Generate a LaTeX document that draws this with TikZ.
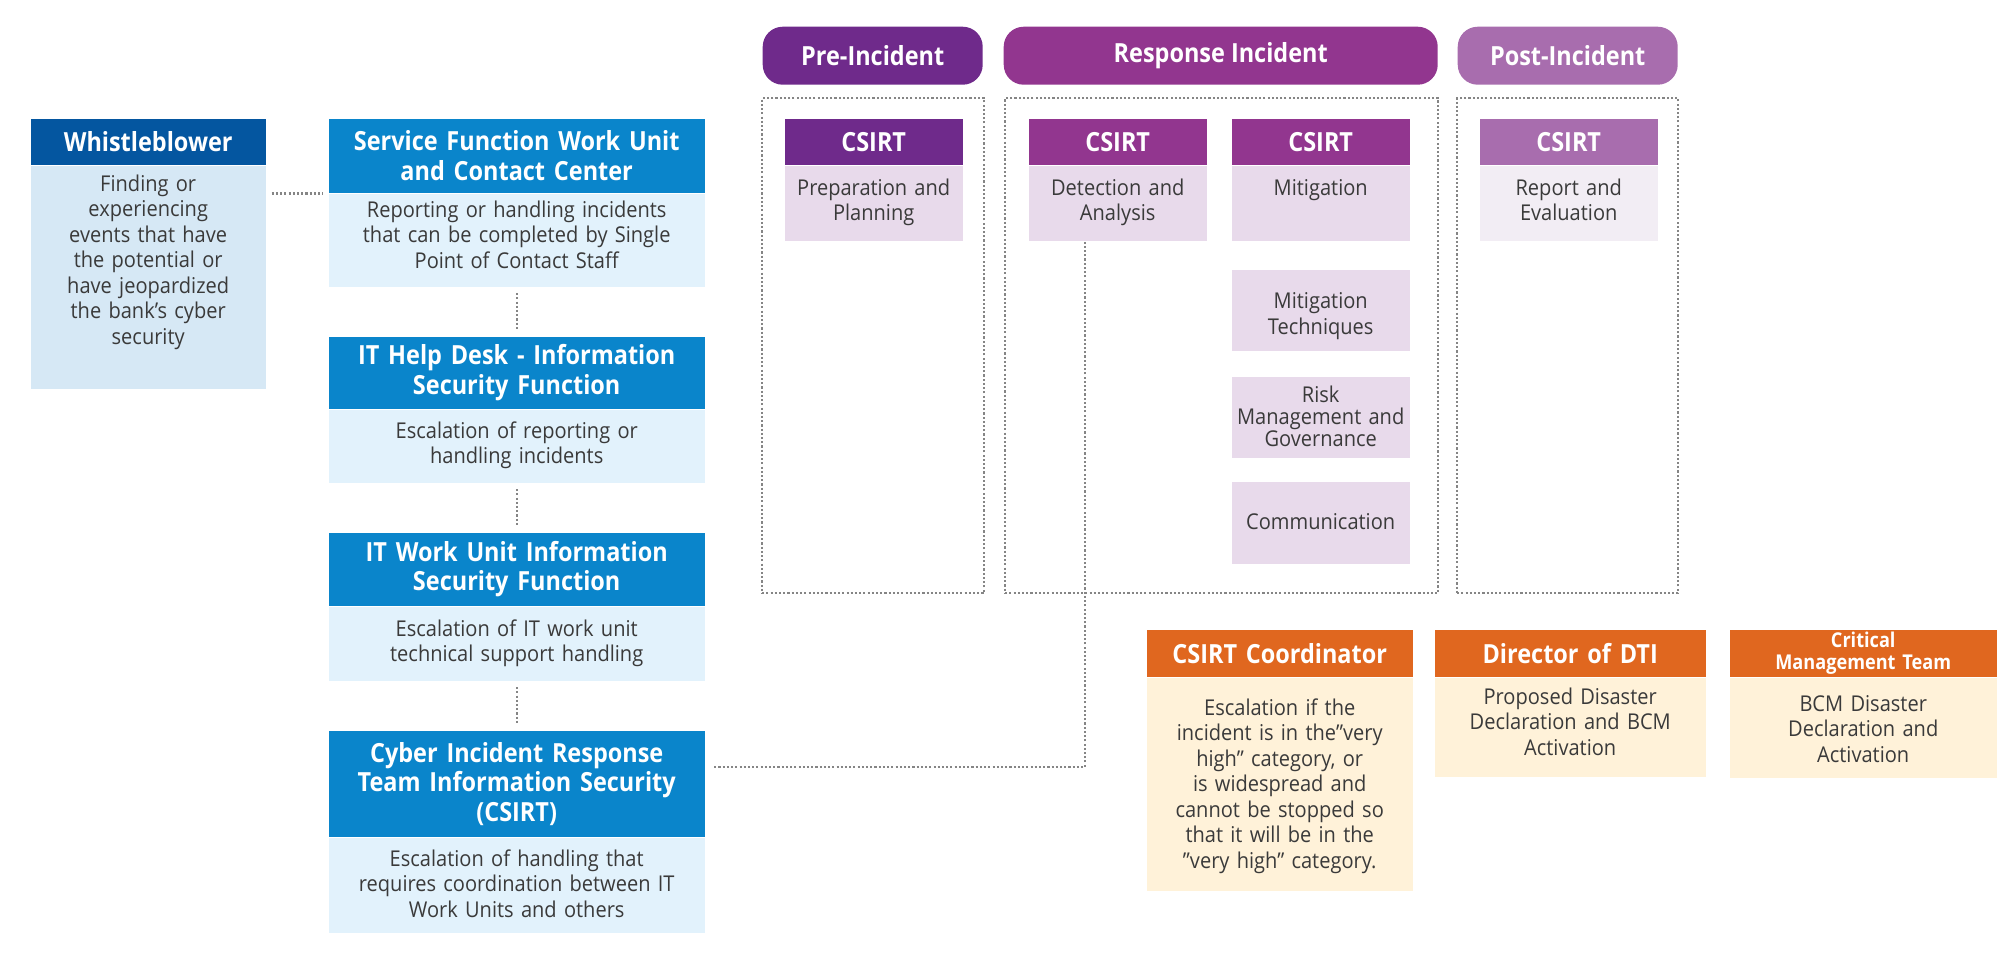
\documentclass[tikz,border=0pt]{standalone}
\usepackage{fontspec}
\setmainfont{Open Sans}[FakeStretch=0.92, BoldFeatures={FakeStretch=0.89}]
\usetikzlibrary{positioning}

\definecolor{wbblue}{HTML}{0456A0}
\definecolor{unitblue}{HTML}{0A85CB}
\definecolor{wbpale}{HTML}{D6E8F5}
\definecolor{unitpale}{HTML}{E2F2FC}
\definecolor{prepurple}{HTML}{6F2A8B}
\definecolor{respurple}{HTML}{92368F}
\definecolor{postpurple}{HTML}{A86DAE}
\definecolor{cardpale}{HTML}{E8DAEB}
\definecolor{postpale}{HTML}{F2EDF4}
\definecolor{escorange}{HTML}{E0671F}
\definecolor{esccream}{HTML}{FFF2D9}
\definecolor{linegrey}{HTML}{858585}
\definecolor{bodytext}{HTML}{3A3A3A}

\newcommand\titlefont{\bfseries\fontsize{7.5}{8.4}\selectfont}
\newcommand\smalltitlefont{\bfseries\fontsize{5.8}{6.3}\selectfont}
\newcommand\bodyfont{\fontsize{6.2}{7.25}\selectfont}

\tikzset{
  box/.style={rectangle, inner sep=0pt, align=center, text width=#1, minimum width=#1},
  head/.style={box=#1, text=white, font=\titlefont},
  body/.style={box=#1, text=bodytext, font=\bodyfont},
  tb/.style 2 args={text height=#1cm, text depth=#2cm},
  phase/.style={rectangle, rounded corners=0.2cm, inner sep=0pt, minimum width=#1,
    minimum height=0.58cm, text=white, font=\titlefont, anchor=north west},
  frame/.style={draw=linegrey, line width=0.65pt, dash pattern=on 0.6pt off 0.6pt},
  link/.style={frame}
}

\begin{document}
\begin{tikzpicture}[x=1cm,y=1cm]
  \useasboundingbox (0,0) rectangle (20.16,-9.60);

  % reporting chain
  \node[head=2.35cm, fill=wbblue, minimum height=0.46cm, anchor=north west] (wbH) at (0.30,-1.18) {Whistleblower};
  \node[body=2.35cm, fill=wbpale, tb={0.25}{1.98}, below=0pt of wbH] (wbB)
    {Finding or\\experiencing\\events that have\\the potential or\\have jeopardized\\the bank's cyber\\security};

  \node[head=3.76cm, fill=unitblue, minimum height=0.74cm, anchor=north west] (sfH) at (3.28,-1.18)
    {Service Function Work Unit\\and Contact Center};
  \node[body=3.76cm, fill=unitpale, tb={0.23}{0.70}, below=0pt of sfH] (sfB)
    {Reporting or handling incidents\\that can be completed by Single\\Point of Contact Staff};

  \node[head=3.76cm, fill=unitblue, minimum height=0.72cm, anchor=north west] (hdH) at (3.28,-3.36)
    {IT Help Desk - Information\\Security Function};
  \node[body=3.76cm, fill=unitpale, tb={0.28}{0.45}, below=0pt of hdH] (hdB)
    {Escalation of reporting or\\handling incidents};

  \node[head=3.76cm, fill=unitblue, minimum height=0.73cm, anchor=north west] (iwH) at (3.28,-5.32)
    {IT Work Unit Information\\Security Function};
  \node[body=3.76cm, fill=unitpale, tb={0.29}{0.45}, below=0pt of iwH] (iwB)
    {Escalation of IT work unit\\technical support handling};

  \node[head=3.76cm, fill=unitblue, minimum height=1.06cm, anchor=north west] (csH) at (3.28,-7.30)
    {Cyber Incident Response\\Team Information Security\\(CSIRT)};
  \node[body=3.76cm, fill=unitpale, tb={0.28}{0.67}, below=0pt of csH] (csB)
    {Escalation of handling that\\requires coordination between IT\\Work Units and others};

  % phases
  \node[phase=2.20cm, fill=prepurple] (preP) at (7.62,-0.26) {Pre-Incident};
  \node[phase=4.34cm, fill=respurple] (resP) at (10.03,-0.26) {Response Incident};
  \node[phase=2.20cm, fill=postpurple] (posP) at (14.57,-0.26) {Post-Incident};

  \node[frame, minimum width=2.22cm, minimum height=4.95cm, anchor=north west] (preF) at (7.61,-0.97) {};
  \node[frame, minimum width=4.33cm, minimum height=4.95cm, anchor=north west] (resF) at (10.04,-0.97) {};
  \node[frame, minimum width=2.21cm, minimum height=4.95cm, anchor=north west] (posF) at (14.56,-0.97) {};

  \node[head=1.78cm, fill=prepurple, minimum height=0.46cm, anchor=north west] (preH) at (7.84,-1.18) {CSIRT};
  \node[body=1.78cm, fill=cardpale, tb={0.29}{0.46}, below=0pt of preH] (preB) {Preparation and\\Planning};

  \node[head=1.78cm, fill=respurple, minimum height=0.46cm, anchor=north west] (detH) at (10.28,-1.18) {CSIRT};
  \node[body=1.78cm, fill=cardpale, tb={0.29}{0.46}, below=0pt of detH] (detB) {Detection and\\Analysis};

  \node[head=1.78cm, fill=respurple, minimum height=0.46cm, anchor=north west] (mitH) at (12.31,-1.18) {CSIRT};
  \node[body=1.78cm, fill=cardpale, tb={0.29}{0.46}, below=0pt of mitH] (mitB) {Mitigation};

  \node[body=1.78cm, fill=cardpale, tb={0.39}{0.42}, anchor=north west] (mtB) at (12.31,-2.69) {Mitigation\\Techniques};
  \node[body=1.78cm, fill=cardpale, tb={0.26}{0.55}, anchor=north west, font=\fontsize{6.2}{6.25}\selectfont] (rmB) at (12.31,-3.76)
    {Risk\\Management and\\Governance};
  \node[body=1.78cm, fill=cardpale, tb={0.48}{0.34}, anchor=north west] (coB) at (12.31,-4.81) {Communication};

  \node[head=1.78cm, fill=postpurple, minimum height=0.46cm, anchor=north west] (posH) at (14.79,-1.18) {CSIRT};
  \node[body=1.78cm, fill=postpale, tb={0.29}{0.46}, below=0pt of posH] (posB) {Report and\\Evaluation};

  % escalation
  \node[head=2.66cm, fill=escorange, minimum height=0.47cm, anchor=north west] (ccH) at (11.46,-6.29) {CSIRT Coordinator};
  \node[body=2.66cm, fill=esccream, tb={0.37}{1.76}, below=0pt of ccH] (ccB)
    {Escalation if the\\incident is in the”very\\high” category, or\\is widespread and\\cannot be stopped so\\that it will be in the\\”very high” category.};

  \node[head=2.71cm, fill=escorange, minimum height=0.47cm, anchor=north west] (dtH) at (14.34,-6.29) {Director of DTI};
  \node[body=2.71cm, fill=esccream, tb={0.26}{0.73}, below=0pt of dtH] (dtB)
    {Proposed Disaster\\Declaration and BCM\\Activation};

  \node[head=2.67cm, fill=escorange, minimum height=0.47cm, anchor=north west, font=\smalltitlefont] (cmH) at (17.29,-6.29)
    {Critical\\Management Team};
  \node[body=2.67cm, fill=esccream, tb={0.33}{0.67}, below=0pt of cmH] (cmB)
    {BCM Disaster\\Declaration and\\Activation};

  % connectors
  \draw[link, shorten <=1.5pt, shorten >=1.5pt] (wbB.east |- sfB.north) -- (sfB.north west);
  \draw[link, shorten <=1.5pt, shorten >=1.5pt] (sfB.south) -- (hdH.north);
  \draw[link, shorten <=1.5pt, shorten >=1.5pt] (hdB.south) -- (iwH.north);
  \draw[link, shorten <=1.5pt, shorten >=1.5pt] (iwB.south) -- (csH.north);

  \coordinate (jn) at (10.85,-7.67);
  \draw[link, shorten <=2.5pt] (csH.east |- jn) -- (jn) -- (jn |- detB.south);
\end{tikzpicture}
\end{document}
